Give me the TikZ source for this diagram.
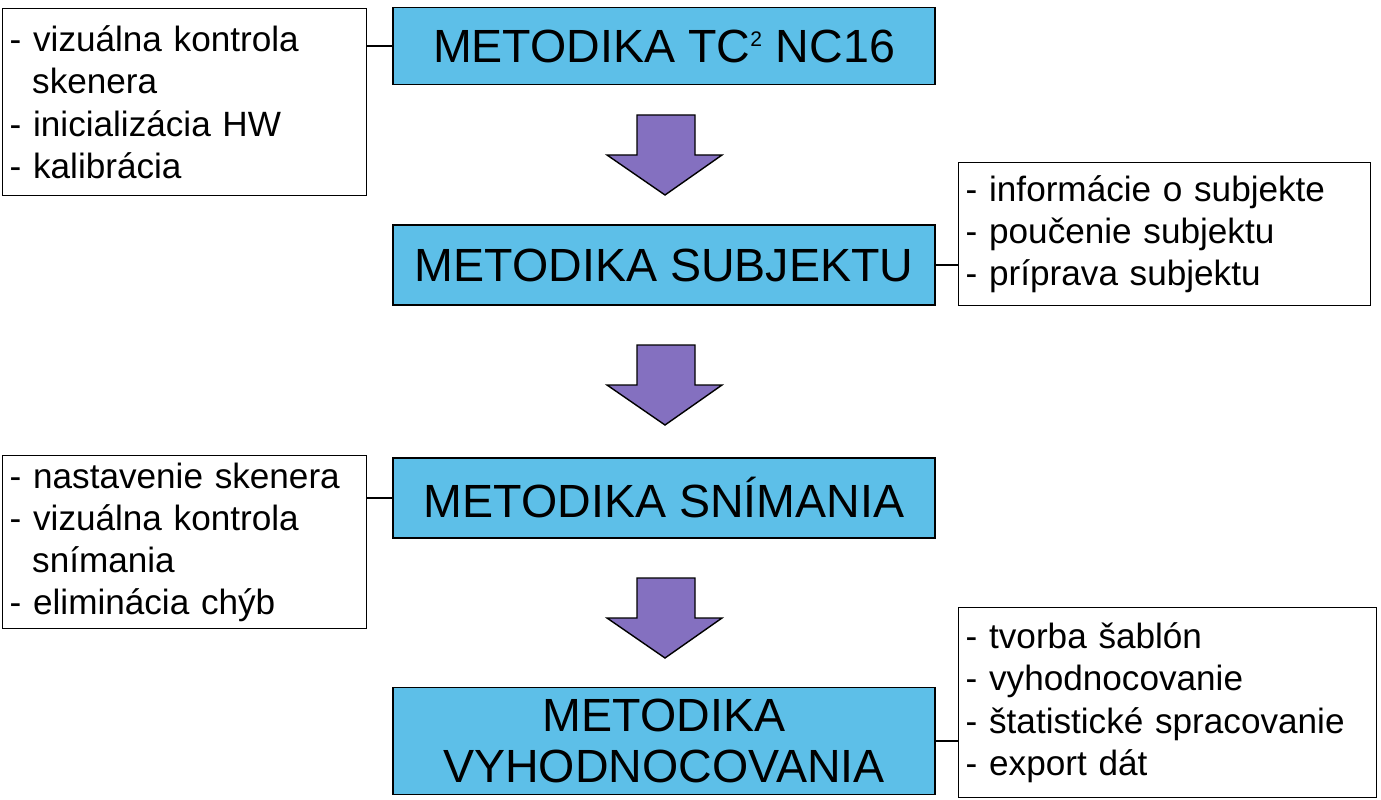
\documentclass[tikz,border=0pt]{standalone}
\usepackage{fontspec}
\setmainfont{Liberation Sans}
\usetikzlibrary{positioning}
\definecolor{boxblue}{RGB}{93,191,232}
\definecolor{arrowviolet}{RGB}{132,112,192}
\tikzstyle{metod}=[rectangle,draw=black,thick,fill=boxblue,minimum width=10.84cm,
                   font=\fontsize{26.5}{29}\selectfont,align=center,inner sep=2pt]
\tikzstyle{note}=[rectangle,draw=black,thick,fill=white,align=left,anchor=north west,
                  font=\fontsize{20}{24}\selectfont,inner sep=0pt,inner xsep=4pt]
\tikzstyle{link}=[thick,black]
\tikzstyle{flow}=[draw=black,thick,fill=arrowviolet]

\begin{document}
\begin{tikzpicture}[x=0.02cm,y=-0.02cm]
    \useasboundingbox (0,0) rectangle (1381,800);

    % hlavne bloky
    \node[metod,minimum height=1.54cm] (B1) at (664,46) {METODIKA TC\textsuperscript{\fontsize{12}{12}\selectfont 2} NC16};
    \node[metod,minimum height=1.6cm]  (B2) at (664,265) {METODIKA SUBJEKTU};
    \node[metod,minimum height=1.6cm]  (B3) at (664,498) {METODIKA SNÍMANIA};
    \node[metod,minimum height=2.14cm] (B4) at (664,741) {METODIKA\\VYHODNOCOVANIA};

    % poznamky
    \node[note,text width=7.0cm,minimum height=3.74cm] (L1) at (2,8)
        {- vizuálna kontrola\\\hspace*{0.45cm}skenera\\- inicializácia HW\\- kalibrácia};
    \node[note,text width=7.96cm,minimum height=2.86cm] (R2) at (958,162)
        {- informácie o subjekte\\- poučenie subjektu\\- príprava subjektu};
    \node[note,text width=7.0cm,minimum height=3.46cm] (L3) at (2,455)
        {- nastavenie skenera\\- vizuálna kontrola\\\hspace*{0.45cm}snímania\\- eliminácia chýb};
    \node[note,text width=8.08cm,minimum height=3.8cm] (R4) at (958,607)
        {- tvorba šablón\\- vyhodnocovanie\\- štatistické spracovanie\\- export dát};

    \draw[link] (L1.east |- B1) -- (B1.west);
    \draw[link] (B2.east) -- (R2.west |- B2);
    \draw[link] (L3.east |- B3) -- (B3.west);
    \draw[link] (B4.east) -- (R4.west |- B4);

    % sipky
    \foreach \y in {115,345,578}
        \draw[flow] (637,\y) -- (695,\y) -- (695,\y+40) -- (722,\y+40)
            -- (665,\y+80) -- (607,\y+40) -- (637,\y+40) -- cycle;
\end{tikzpicture}
\end{document}
